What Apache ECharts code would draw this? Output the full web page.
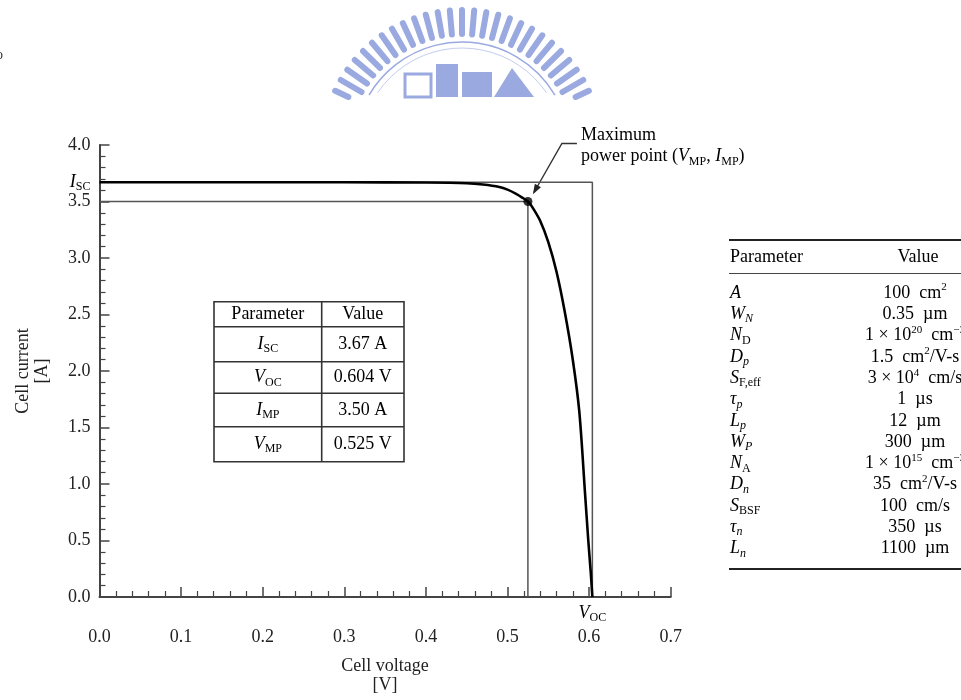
<!DOCTYPE html>
<html><head><meta charset="utf-8">
<script src="https://cdn.jsdelivr.net/npm/echarts@6/dist/echarts.min.js"></script>
<style>html,body{margin:0;padding:0;background:#fff}#c{width:961px;height:700px}</style>
</head><body><div id="c"></div>
<script>
// ---- data ----
const voltage = [0, 0.1, 0.2, 0.3, 0.4, 0.45, 0.47, 0.49, 0.50, 0.51, 0.518, 0.525, 0.53, 0.54, 0.55, 0.56, 0.57, 0.58, 0.588, 0.595, 0.599, 0.602, 0.604];
const current = [3.67, 3.67, 3.67, 3.67, 3.668, 3.662, 3.65, 3.628, 3.605, 3.57, 3.535, 3.50, 3.455, 3.33, 3.14, 2.88, 2.53, 2.10, 1.64, 0.92, 0.50, 0.22, 0];
const ISC = 3.67, VOC = 0.604, IMP = 3.50, VMP = 0.525;
const summaryParams = ['{i|I}{s|SC}', '{i|V}{s|OC}', '{i|I}{s|MP}', '{i|V}{s|MP}'];
const summaryValues = ['3.67 A', '0.604 V', '3.50 A', '0.525 V'];
const deviceParams = ['{i|A}', '{i|W}{si|N}', '{i|N}{s|D}', '{i|D}{si|p}', '{i|S}{s|F,eff}', '{i|τ}{si|p}', '{i|L}{si|p}', '{i|W}{si|P}', '{i|N}{s|A}', '{i|D}{si|n}', '{i|S}{s|BSF}', '{i|τ}{si|n}', '{i|L}{si|n}'];
const deviceValues = ['100  cm{u|2}', '0.35  µm', '1 × 10{u|20}  cm{u|−3}', '1.5  cm{u|2}/V-s', '3 × 10{u|4}  cm/s', '1  µs', '12  µm', '300  µm', '1 × 10{u|15}  cm{u|−3}', '35  cm{u|2}/V-s', '100  cm/s', '350  µs', '1100  µm'];

const FONT = '"Liberation Serif", "Times New Roman", serif';
const INK = '#222';
const rich = {
  n: {fontFamily: FONT, fontSize: 18, color: INK, lineHeight: 22},
  i: {fontFamily: FONT, fontSize: 18, fontStyle: 'italic', color: INK, lineHeight: 22},
  s: {fontFamily: FONT, fontSize: 12, color: INK, lineHeight: 12, verticalAlign: 'bottom'},
  si: {fontFamily: FONT, fontSize: 12, fontStyle: 'italic', color: INK, lineHeight: 12, verticalAlign: 'bottom'},
  u: {fontFamily: FONT, fontSize: 11, color: INK, lineHeight: 12, verticalAlign: 'top'}
};
function wrapPlain(t) {
  return t.split(/(\{[a-z]+\|[^}]*\})/).filter(x => x).map(x => x[0] === '{' ? x : '{n|' + x + '}').join('');
}

const chart = echarts.init(document.getElementById('c'), null, {renderer: 'canvas'});
const axisCommon = {
  axisLine: {show: true, lineStyle: {color: '#444', width: 2}},
  axisTick: {show: true, inside: true, length: 10, lineStyle: {color: '#444', width: 1.5}},
  minorTick: {show: true, splitNumber: 5, length: 6, lineStyle: {color: '#444', width: 1.2}},
  splitLine: {show: false},
  axisLabel: {color: INK, fontFamily: FONT, fontSize: 18, formatter: v => v.toFixed(1)},
  nameTextStyle: {color: INK, fontFamily: FONT, fontSize: 18, lineHeight: 19}
};
chart.setOption({
  animation: false,
  backgroundColor: '#fff',
  grid: {left: 99.5, right: 290.3, top: 145, bottom: 97.5, containLabel: false},
  xAxis: Object.assign({}, axisCommon, {
    type: 'value', min: 0, max: 0.7, interval: 0.1,
    name: 'Cell voltage\n[V]', nameLocation: 'middle', nameGap: 60,
    axisLabel: Object.assign({}, axisCommon.axisLabel, {margin: 31})
  }),
  yAxis: Object.assign({}, axisCommon, {
    type: 'value', min: 0, max: 4, interval: 0.5,
    name: 'Cell current\n[A]', nameLocation: 'middle', nameGap: 48, nameRotate: 90,
    axisLabel: Object.assign({}, axisCommon.axisLabel, {margin: 9})
  }),
  series: [
    {type: 'line', data: [[0, ISC], [VOC, ISC], [VOC, 0]], symbol: 'none', lineStyle: {color: '#555', width: 1.5}, z: 2},
    {type: 'line', data: [[0, IMP], [VMP, IMP], [VMP, 0]], symbol: 'none', lineStyle: {color: '#555', width: 1.5}, z: 2},
    {type: 'line', data: voltage.map((v, k) => [v, current[k]]), symbol: 'none', smooth: 0.3, lineStyle: {color: '#000', width: 2.6}, z: 3},
    {type: 'scatter', data: [[VMP, IMP]], symbolSize: 9, itemStyle: {color: '#000'}, z: 4}
  ]
});

const px = (x, y) => chart.convertToPixel({gridIndex: 0}, [x, y]);
const g = [];
const pIsc = px(0, ISC);
g.push({type: 'text', x: pIsc[0] - 9, y: pIsc[1], style: {text: '{i|I}{s|SC}', rich, align: 'right', verticalAlign: 'middle'}});
const pVoc = px(VOC, 0);
g.push({type: 'text', x: pVoc[0], y: pVoc[1] + 16, style: {text: '{i|V}{s|OC}', rich, align: 'center', verticalAlign: 'middle'}});
// Maximum power point annotation
const pMp = px(VMP, IMP);
const tx = pMp[0] + 53, ty = pMp[1] - 66;
g.push({type: 'text', x: tx, y: ty, style: {text: '{n|Maximum}', rich, align: 'left', verticalAlign: 'middle'}});
g.push({type: 'text', x: tx, y: ty + 21, style: {text: '{n|power point (}{i|V}{s|MP}{n|, }{i|I}{s|MP}{n|)}', rich, align: 'left', verticalAlign: 'middle'}});
const a0 = [tx - 4, ty + 8], a1 = [tx - 19, ty + 8], a2 = [pMp[0] + 6, pMp[1] - 9];
g.push({type: 'polyline', shape: {points: [a0, a1, a2]}, style: {stroke: '#333', lineWidth: 1.4, fill: null}});
(function () {
  const dx = a2[0] - a1[0], dy = a2[1] - a1[1], L = Math.hypot(dx, dy), ux = dx / L, uy = dy / L;
  const tip = [a2[0] + ux * 2, a2[1] + uy * 2], b = [tip[0] - ux * 10, tip[1] - uy * 10];
  g.push({type: 'polygon', shape: {points: [tip, [b[0] - uy * 3.5, b[1] + ux * 3.5], [b[0] + uy * 3.5, b[1] - ux * 3.5]]}, style: {fill: '#222'}});
})();

// left summary table
(function () {
  const x0 = 214, x1 = 321.7, x2 = 404, ys = [301.7, 326.7, 361.7, 393.3, 426.7, 461.7];
  g.push({type: 'rect', shape: {x: x0, y: ys[0], width: x2 - x0, height: ys[5] - ys[0]}, style: {fill: '#fff', stroke: '#333', lineWidth: 1.6}, z: 10});
  g.push({type: 'line', shape: {x1: x1, y1: ys[0], x2: x1, y2: ys[5]}, style: {stroke: '#333', lineWidth: 1.6}, z: 11});
  for (let k = 1; k < 5; k++) g.push({type: 'line', shape: {x1: x0, y1: ys[k], x2: x2, y2: ys[k]}, style: {stroke: '#333', lineWidth: 1.6}, z: 11});
  const cx1 = (x0 + x1) / 2, cx2 = (x1 + x2) / 2;
  g.push({type: 'text', x: cx1, y: (ys[0] + ys[1]) / 2, style: {text: '{n|Parameter}', rich, align: 'center', verticalAlign: 'middle'}, z: 12});
  g.push({type: 'text', x: cx2, y: (ys[0] + ys[1]) / 2, style: {text: '{n|Value}', rich, align: 'center', verticalAlign: 'middle'}, z: 12});
  summaryParams.forEach((p, k) => {
    const cy = (ys[k + 1] + ys[k + 2]) / 2;
    g.push({type: 'text', x: cx1, y: cy, style: {text: p, rich, align: 'center', verticalAlign: 'middle'}, z: 12});
    g.push({type: 'text', x: cx2, y: cy, style: {text: wrapPlain(summaryValues[k]), rich, align: 'center', verticalAlign: 'middle'}, z: 12});
  });
})();

// right parameter table
(function () {
  const xl = 729, xr = 961, vc = 915;
  g.push({type: 'line', shape: {x1: xl, y1: 240, x2: xr, y2: 240}, style: {stroke: '#222', lineWidth: 2}});
  g.push({type: 'text', x: xl + 1, y: 257, style: {text: '{n|Parameter}', rich, align: 'left', verticalAlign: 'middle'}});
  g.push({type: 'text', x: vc + 3, y: 257, style: {text: '{n|Value}', rich, align: 'center', verticalAlign: 'middle'}});
  g.push({type: 'line', shape: {x1: xl, y1: 273.5, x2: xr, y2: 273.5}, style: {stroke: '#444', lineWidth: 1.2}});
  deviceParams.forEach((p, k) => {
    const cy = 293 + k * 21.3;
    g.push({type: 'text', x: xl + 1, y: cy, style: {text: p, rich, align: 'left', verticalAlign: 'middle'}});
    g.push({type: 'text', x: vc, y: cy, style: {text: wrapPlain(deviceValues[k]), rich, align: 'center', verticalAlign: 'middle'}});
  });
  g.push({type: 'line', shape: {x1: xl, y1: 569, x2: xr, y2: 569}, style: {stroke: '#222', lineWidth: 2}});
})();

// faint watermark logo (decoration)
(function () {
  const cx = 462, cy = 150, r0 = 116, r1 = 140, clipY = 97, col = '#9aaae0';
  const kids = [];
  for (let a = 20; a <= 160; a += 5.0) {
    const t = a * Math.PI / 180, c = Math.cos(t), s = Math.sin(t);
    let p1 = [cx + r1 * c, cy - r1 * s], p0 = [cx + r0 * c, cy - r0 * s];
    if (p1[1] > clipY - 3) continue;
    if (p0[1] > clipY) { const rr = (cy - clipY) / s; p0 = [cx + rr * c, clipY]; }
    kids.push({type: 'line', shape: {x1: p0[0], y1: p0[1], x2: p1[0], y2: p1[1]}, style: {stroke: col, lineWidth: 6, lineCap: 'round'}});
  }
  kids.push({type: 'arc', shape: {cx, cy, r: 108, startAngle: -Math.PI * 0.83, endAngle: -Math.PI * 0.17}, style: {stroke: col, lineWidth: 1.5, fill: null}});
  kids.push({type: 'arc', shape: {cx, cy, r: 102, startAngle: -Math.PI * 0.81, endAngle: -Math.PI * 0.19}, style: {stroke: '#c3cdef', lineWidth: 1, fill: null}});
  kids.push({type: 'rect', shape: {x: 405, y: 74, width: 26, height: 23}, style: {fill: 'none', stroke: col, lineWidth: 3}});
  kids.push({type: 'rect', shape: {x: 436, y: 64, width: 22, height: 33}, style: {fill: col}});
  kids.push({type: 'rect', shape: {x: 462, y: 72, width: 30, height: 25}, style: {fill: col}});
  kids.push({type: 'polygon', shape: {points: [[494, 97], [512, 68], [534, 97]]}, style: {fill: col}});
  g.push({type: 'group', children: kids, z: -1});
  g.push({type: 'text', x: -4, y: 55, style: {text: 'o', fontFamily: FONT, fontSize: 14, fill: '#333', verticalAlign: 'middle'}});
})();

chart.setOption({graphic: g});
</script></body></html>
